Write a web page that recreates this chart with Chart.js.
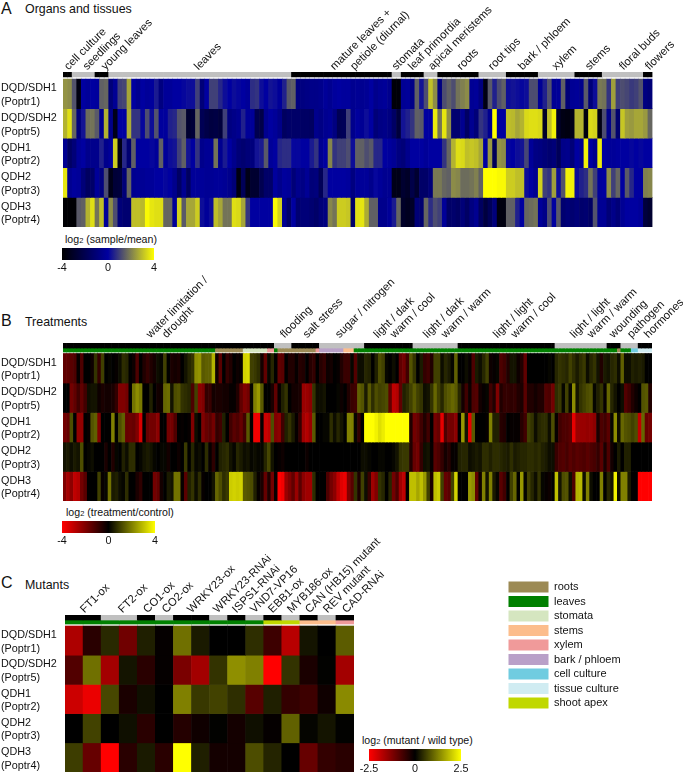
<!DOCTYPE html>
<html>
<head>
<meta charset="utf-8">
<script src="https://cdn.jsdelivr.net/npm/chart.js@4/dist/chart.umd.min.js"></script>
<style>
  body { margin: 0; background: #fff; width: 683px; height: 773px; position: relative; overflow: hidden; font-family: "Liberation Sans", Arial, sans-serif; color: #111; }
  canvas { position: absolute; left: 0; }
  .txt { position: absolute; white-space: nowrap; line-height: 1; }
  .letter { font-size: 16px; }
  .head { font-size: 12.4px; }
  .key { font-size: 10.6px; }
  .key small { font-size: 7.5px; }
</style>
</head>
<body>
<div class="txt letter" style="left:1px;top:1px">A</div>
<div class="txt head" style="left:25px;top:3px">Organs and tissues</div>
<div class="txt letter" style="left:1px;top:313px">B</div>
<div class="txt head" style="left:25px;top:316px">Treatments</div>
<div class="txt letter" style="left:1px;top:575px">C</div>
<div class="txt head" style="left:25px;top:579px">Mutants</div>
<div class="txt key" style="left:65px;top:234px">log<small>2</small> (sample/mean)</div>
<div class="txt key" style="left:66px;top:507px">log<small>2</small> (treatment/control)</div>
<div class="txt key" style="left:362px;top:735px">log<small>2</small> (mutant / wild type)</div>

<canvas id="organs" width="683" height="240" style="top:0"></canvas>
<canvas id="treatments" width="683" height="240" style="top:270px"></canvas>
<canvas id="mutants" width="683" height="243" style="top:530px"></canvas>
<canvas id="organsKey" width="140" height="30" style="left:40px;top:248px"></canvas>
<canvas id="treatmentsKey" width="140" height="30" style="left:40px;top:521px"></canvas>
<canvas id="mutantsKey" width="140" height="24" style="left:345px;top:749px"></canvas>
<canvas id="tissueLegend" width="178" height="150" style="left:505px;top:578px"></canvas>

<script>
const geneLabels = [["DQD/SDH1", "(Poptr1)"], ["DQD/SDH2", "(Poptr5)"], ["QDH1", "(Poptr2)"], ["QDH2", "(Poptr3)"], ["QDH3", "(Poptr4)"]];

// Panel A, one value per sample
const organsPoptr1 = [
  2.3,2.2,1.3,-3.6,0,-0.2,0,-0.1,1.5,1.6,
  -1,-0.3,1,1.1,2.6,0,-0.4,0,-0.2,-0.1,
  0.4,-0.8,-0.2,-0.2,0,0,0.1,0.2,0.2,1,
  -1,0,1,1,0.6,0.2,0,0.2,0.1,0,
  -0.2,0.7,0.8,0.2,0,0.3,0.2,-0.2,0.5,1.4,
  1.5,-0.8,-0.8,-0.7,-0.6,-0.6,-0.5,-0.2,-0.4,-0.1,
  0,-0.1,-0.1,-0.4,-0.3,-0.4,-0.3,0,-0.5,-0.3,
  -0.2,-0.5,-3.8,-3.8,-0.3,-0.2,-0.6,1.5,0.3,1.2,
  3,2.2,-0.8,1.2,1.5,1.2,1.8,2,2.2,-0.3,
  -0.2,-0.8,-3.5,1.4,0.5,1.2,1.5,0.2,0.3,0.2,
  0.1,0.2,1.2,1.2,-0.3,0.5,1.3,-0.3,-0.2,1.5,
  -1,-0.3,-0.2,-0.5,1.4,-1,0.2,1.9,1.8,0.8,
  2.5,1,1.2,1.1,0.9,1,1.3,-0.8,-1];
const organsPoptr5 = [
  2.8,3.5,1.6,-0.9,0.3,1.7,1.8,1.4,-0.4,2.8,
  -0.6,-3.4,0,0,2.7,0.8,0.8,0.1,1.2,0.2,
  1.3,-0.1,-0.1,0.5,0.6,1.3,1.4,-2.8,-2.6,1.6,
  -1.9,-2.2,-2.4,-2.3,-2.5,1,-0.8,-0.6,-0.4,0.5,
  -0.2,-0.2,-2,-2.2,-0.4,0,-0.2,-0.6,-1.6,-1.4,
  -1.4,-1.4,-1.5,-1.5,-1.6,-0.5,-0.7,-0.4,-0.3,-0.8,
  -1.9,-1.8,1,-0.5,-0.1,-0.3,0.2,0,-1,-0.7,
  -0.6,-0.8,-1.5,-2.5,0.3,0.5,0.8,1.5,1.4,0,
  0,3.7,1.8,3.6,2.2,-1.2,-1.2,-0.4,-1.5,-0.4,
  -1,0.8,0.5,-0.4,4,0,0,3,2.9,2.6,
  2.8,3.4,3.5,3.5,3.4,-3,3,3.8,-3,-3.5,
  -3.6,-3.4,2.8,2.8,-3.6,3.4,3.3,-3.5,1.2,-0.5,
  1.3,-1.2,3.1,2.5,2.4,2.6,2.6,2.4,1.6];
const organsPoptr2 = [
  -0.4,-1.5,-1,-0.2,0,-0.5,-0.5,-0.5,0.5,-0.5,
  -0.2,3.2,-3.5,0.6,-1.2,1.5,0,0,0,0.1,
  -0.2,1.5,-0.2,0.2,0.3,1,1.5,0.3,0,0.8,
  -0.5,-0.3,-0.3,1.8,-0.4,0.4,0,-0.5,-1,-1.2,
  -1,-0.9,0.3,0.4,1.4,-0.2,0,0.6,0.7,0.7,
  0.1,0.1,0,0,0.4,0.8,-0.4,0,2.1,0.8,
  1,1,1.2,0.2,1.5,1.5,1.2,1.4,0.6,0.6,
  0,-0.1,-0.3,-0.8,-1,-0.5,0,0,0,-0.2,
  0,0,0,0.8,1.6,2.8,3.5,3.4,3,3.1,
  3,2.6,0,2.4,-1.8,2.3,2.2,0.1,0,0.2,
  0.3,1.1,-0.2,-0.7,-0.8,-1,-1.2,-1,-1.8,-0.6,
  -0.5,-1,0,-0.4,3.8,0,-0.5,3.7,0,-0.2,
  -0.2,-0.1,0,0,0.1,0,0.1,0,0];
const organsPoptr3 = [
  3.6,-0.4,-0.1,-0.2,-1,-1.6,-1.4,-0.2,-0.8,1.2,
  -3.4,-2.6,-2.5,-1,1.6,-0.4,-0.3,-0.3,-0.2,-0.2,
  0,0,0.1,0,-0.5,-1.5,-0.4,-1.6,-0.2,-0.2,
  -0.2,-0.3,-0.3,-0.2,-0.2,-0.3,-0.5,-1,-3.6,-1.8,
  -3.4,-2.8,-2.8,-2,-1.4,-1.4,-0.1,-0.5,-0.1,-0.2,
  -1,-0.5,-0.7,-0.3,-1,-0.9,-1.8,0.6,0,0,
  0,0,-0.1,-0.8,-0.2,-0.2,-0.2,-0.5,0.1,-0.2,
  -0.4,-0.4,-3.4,-3.4,-2.8,-3,-2.2,-2.8,-1.4,-1.4,
  -1,1.9,1.9,1.6,1.5,2.2,2.1,1.7,1.7,1.8,
  2,1.5,4,4,4,3.9,3.9,3.2,3.2,3,
  3,0.2,0,-0.4,3.3,1,0.8,2.5,0.2,1.3,
  3.8,3.8,0.2,0.5,0.7,1.8,1,-0.1,0,2.2,
  1,1.6,0,1.4,0.6,0,0,2,2.1];
const organsPoptr4 = [
  -3.9,-3.9,-3.9,1.4,1.5,2.8,3.5,1.8,3,-0.2,
  2.2,1.2,-1,-1.2,-1.2,3,3,2.9,3.9,3.6,
  3.5,3.5,1.6,1.6,-0.2,3.3,1.4,2.6,2.6,3.2,
  0.2,-0.2,0.2,3,2.6,1.8,1.8,3.5,3.4,2.6,
  0.8,0,0,0,0,0,3.9,3.3,-0.4,-1.4,
  0,-1.2,-1,-1,-1.2,-1.4,-1,-0.8,2.1,1.8,
  3.2,3.2,3.1,-1.4,3.5,3.6,2.7,1.5,1.5,-0.5,
  -0.5,-0.2,0.4,1.6,-3,-3.2,-3,-1,-1.2,1.6,
  0.7,1.2,1,-0.2,-1.4,-1.3,-1.5,-1,-1.5,-0.8,
  -0.4,-1.6,-2.4,-1.8,-0.9,-3.6,-3.6,1.5,1.5,0.5,
  0,1.6,1.7,1.8,-0.2,-0.6,1.2,0,1.4,-1.2,
  -1,-1.2,-1,-1.3,-1.2,-1.5,1.3,-0.3,-0.3,-1,
  -0.6,-1,-0.3,0,0,0,-0.2,-2.5,-2.8];

// Panel B
const treatPoptr1 = [
  -1.5,-1.5,-1.4,-1.2,-0.1,-1.2,0,0,-0.2,0.8,
  -0.8,1,0,0.1,0,-0.1,0.2,0.7,0.6,0,
  -0.2,-1.2,0,-0.5,-0.8,-0.5,-0.3,0.2,0.1,1,
  0,-0.4,-0.3,-0.4,0,0.3,0.6,0.8,2.2,2.3,
  1.4,1.5,1.5,2.8,-0.2,-1.4,0,-0.8,-0.5,0,
  -0.2,-0.1,3.3,3.4,1,0.9,0.7,-0.3,-1.5,0.1,
  0.6,0,-1.5,-1.4,0,-0.5,-0.5,-0.1,-0.6,-0.5,
  0,-0.6,-0.8,0,-0.6,-0.8,-0.2,-0.3,0,-0.1,
  -0.5,-0.9,-0.9,0.1,-1.3,0.2,0.2,0.6,0.5,0,
  0.5,1.2,1,0.1,0,0.2,0,-1.5,-1.8,-1,
  1.3,0.8,0,0.4,-0.8,-1,-0.5,1,1,0.2,
  0.6,0.4,0.1,1.5,0,0,0.2,-0.1,-1.2,0.4,
  0.2,0.6,1,-0.2,-0.1,0.1,-1.2,-1,-0.5,0.3,
  0.3,-0.2,-0.5,-1.5,0,0,0,0,0,0,
  0.1,0,0.6,0.8,0.7,0.6,1,0.7,0.4,0.7,
  0.9,0.2,0.6,0.8,0.3,-0.5,0.4,0.3,0.6,0.7,
  0.2,1.5,0.2,0.2,0.5,0.4,0.5,0.4,0,0];
const treatPoptr5 = [
  0,0,-1.8,-1.5,-1,-1.5,-1,0.2,0.3,0.3,
  -0.2,-0.4,-0.3,-0.3,-0.4,-0.8,-2,-2,-1.8,0,
  1.8,2.2,1.9,0,0,0.5,0,-0.3,-0.2,1.6,
  1.7,0.3,1.2,1.3,0.8,0.7,0.6,-1.2,1,-2.2,
  -2,-0.8,-0.9,-0.3,-0.4,-0.4,-0.3,-0.3,-0.1,-0.1,
  -0.5,-1.5,-2,-1.8,0.1,2,2.4,1.4,0,0,
  -0.4,-1.5,-0.1,0.5,0.8,0,-0.3,-0.3,-0.4,-2.4,
  -2.4,-2.2,0.8,0.2,0.2,0.3,0,0,0,0.1,
  -0.2,0,-0.5,-0.9,-1,1.5,1.3,0.4,1.4,0.7,
  1.2,1,1.1,1.2,-1.5,-3,-2.8,-1.5,0.5,0.7,
  1,1.4,1,0.8,0.2,0.3,0.8,1.6,1,0.6,
  1.2,1.4,1.6,1.4,0.6,-0.3,-1,-0.2,-1.2,-1.3,
  -0.3,-0.1,0.1,-1,-0.5,-2,-0.5,-0.8,-0.8,-0.7,
  -0.8,-0.5,-0.4,-1.4,-0.5,-0.5,-0.3,-0.5,-0.5,-1.3,
  -1.2,-1.8,0.7,0.9,0.1,1,0.1,2.2,0.3,0.8,
  1,1.2,1.3,0.1,0.5,0.8,-0.1,1.6,0.6,0.3,
  0,0.2,-1.3,-1,-0.5,-0.2,0,1.3,1.4,-0.5];
const treatPoptr2 = [
  -1.8,-1.6,1.2,0,-2.3,-2.3,0,-0.1,1.3,1.5,
  -2,0,0,0,2,0,1.2,1.5,-1.6,-1.7,
  -1.6,-2,-3.4,0,-1.6,-1.8,-1.8,-2.2,0,0,
  -1.8,-1.8,-1.2,0,-0.1,0,-0.1,-2,0.2,0,
  -2,-1.6,-1.4,-1.8,-0.8,-1,0.5,0,-1,-1.4,
  -1.2,-1.6,-1,1.4,0,-3.8,-3.8,-0.1,-3.2,-3,
  1.2,-2,-2.2,-1,0.5,0.8,0.4,-0.1,-0.8,-2.5,
  -2.8,-2.4,1.4,0,0,0.1,0.1,0.7,0.2,0.6,
  0.3,0,2,2,0.1,-0.8,0,4,4,4,
  3.8,3.5,3.7,4,4,4,4,4,4,4,
  -0.5,-1.8,-1.6,-1,-0.5,-1,0,-1.8,-1.6,-3.6,
  -1.2,-1.8,-1.8,-2.2,0,2.4,0.3,-3.6,1.4,0,
  0,0,-0.1,2,0.5,0.5,-0.6,-0.5,0,-0.1,
  -0.1,-0.1,-0.6,-1,1,0.8,0.2,0.6,0.7,0.7,
  0.2,1.2,-0.1,-1,-1.2,-1.2,-1.4,-3.6,-2.4,-2.4,
  -2.4,-2.3,-2.4,-2.2,-0.4,-1.2,-1,-1.4,0.1,2.2,
  0.2,1.6,1.3,1.2,1,1.2,-3,1.6,-1.6,-1.8];
const treatPoptr3 = [
  0.3,0.4,0.2,0.4,0.3,1.2,0,0.1,0.2,0,
  0,0,-0.4,0,-0.5,0.1,0,0.5,0.2,0.7,
  0.7,0,0.1,0.3,0.4,0.3,0.1,0,0.1,0.1,
  -0.3,0,0,-0.2,0,0.9,0,0.6,0.1,0.2,
  0,0.7,-0.1,-0.7,0,0.5,0.6,0.7,0.3,0.1,
  0.6,0.4,0.2,0.3,0.1,0.2,0.1,0.1,0.6,1.1,
  0.3,0,-0.1,-0.2,0,0,0,0,0,0,
  -0.2,0,0,0,0,0,0,0,0,0,
  0,0,0,0,0,0,0.2,0.2,0.1,0,
  0,0.1,0.1,0,0,0.1,0.3,0.8,0.9,0.9,
  -0.5,-1.6,-1.8,-0.8,0.2,0.3,-0.1,-1.4,-1.2,-0.8,
  -0.3,-0.6,-0.1,-0.1,0.5,0.6,0.6,0.2,0.3,0.4,
  0.3,0.7,0.7,0.5,0.7,0.7,0.6,0.5,0.4,0.7,
  0.4,0.5,0.6,0.6,0.7,0.7,0.6,0.7,0.5,0.4,
  0.2,0.2,-0.9,-1.2,-1.3,-1.1,-1.4,-1.2,-1.4,-1.3,
  -1.2,-1.4,-1.2,-1.1,-0.8,-1.4,-0.4,-1.2,-0.3,0,
  0.4,0,0.5,0.5,0,0,0,0,0,0];
const treatPoptr4 = [
  -2,-2.6,-2.2,-3,-2.8,-1.8,-1.4,0,0,0,
  1,-0.1,0.1,1.8,0.4,0.5,0.2,0.1,0.7,0,
  0,-0.4,-0.7,0,0,0,-1.8,-1.6,-0.3,0,
  0.4,0.3,1.8,1.8,-0.1,-1.4,0.5,0.8,0.2,0.7,
  -0.1,0,0,0.3,1.6,1.2,0.7,0.9,3.2,3.3,
  3.2,3.3,1.4,1.3,1.2,0.5,-0.1,-0.4,-1.6,-0.5,
  -1.8,-0.1,-4,-3.8,-2.4,-2,-1.5,-2.4,-1.4,-2.2,
  -2.5,-2.5,0.7,0,0,0,-1.2,-1.8,-2.2,-3,
  -3.5,-3.7,-2,-1.4,0.8,-0.4,1,0.2,-0.9,-2.5,
  -2,0.8,0.6,0,0.6,-1.8,-1.2,-2.5,-3,0,
  3,3,2.6,3,2.4,1,-0.4,3,3.2,1,
  -1.6,-1.4,1,3.3,0,0,0,2.4,2.2,-1.5,
  -0.2,2,0.3,2,0.4,0.1,-1.4,-1,0,1,
  1.6,0,2.4,0.1,1,0.6,0.2,0.8,0.1,-0.1,
  -0.2,0,3,0.3,1.2,1.3,0.2,-1.2,2.8,2.9,
  0.2,2,0.2,0,0,2,0,0.6,0.3,3.8,
  0.2,2,2,0.4,0,0,-4,-4,-4,-4];

// Panel C
const mutantPoptr1 = [-1.7,-0.4,0.4,-1.1,0.3,-0.05,1.1,0.25,0,0,0.45,-0.6,-1.8,0.2,0,0.9];
const mutantPoptr5 = [-0.8,1.1,-1.6,0.2,-0.4,-0.05,-1.2,-1.6,0.5,1.4,1.25,-2.5,0.5,-0.25,0.02,-1.6];
const mutantPoptr2 = [-2,-2.3,0.7,-0.25,0.15,0,1.25,0.55,0.65,0.45,-0.85,0.3,-0.5,-0.6,-0.15,1.35];
const mutantPoptr3 = [0,0.65,0,0.15,-0.4,0,-0.35,-0.15,0.02,-0.2,0.15,-0.05,0.95,0.05,0.2,0.02];
const mutantPoptr4 = [0.6,-1,-2.5,-0.4,0.25,-0.4,2.5,0.3,-0.2,-0.2,0.75,0.35,0,-1,-0.5,-0.4];

// Group labels on top of each panel, with the pixel where the slanted text starts
const organLabels = ["cell culture", "seedlings", "young leaves", "leaves", "mature leaves +", "petiole (diurnal)", "stomata", "leaf primordia", "apical meristems", "roots", "root tips", "bark / phloem", "xylem", "stems", "floral buds", "flowers"];
const organLabelX = [64, 82.7, 101, 194, 330, 350, 391.7, 408, 428, 456.7, 488, 518, 551.7, 585, 619, 645];
const treatLabels = ["water limitation /", "drought", "flooding", "salt stress", "sugar / nitrogen", "light / dark", "warm / cool", "light / dark", "warm / warm", "light / light", "warm / cool", "light / light", "warm / warm", "wounding", "pathogen", "hormones"];
const treatLabelX = [146, 162, 280, 302.7, 335, 373.3, 390, 423, 441, 493, 510.7, 570, 587, 609, 627, 644];
const mutantLabels = ["FT1-ox", "FT2-ox", "CO1-ox", "CO2-ox", "WRKY23-ox", "WRKY23-RNAi", "ISPS1-RNAi", "VND7-VP16", "EBB1-ox", "MYB186-ox", "CAN (HB15) mutant", "REV mutant", "CAD-RNAi"];
const mutantLabelX = [80, 118, 143, 161.7, 187, 213, 232, 250, 268, 287, 305, 323, 342];

// Alternating black / grey header groups, in number of columns
const organGroups = [2, 5, 3, 40, 22, 2, 5, 3, 9, 6, 7, 8, 6, 9, 2];
const treatGroups = [61, 5, 8, 13, 14, 13, 28, 15, 4, 5, 4];
const mutantGroups = [2, 2, 1, 1, 2, 1, 1, 1, 1, 1, 1, 1, 1];

const tissueNames = ["roots", "leaves", "stomata", "stems", "xylem", "bark / phloem", "cell culture", "tissue culture", "shoot apex"];
const tissueColors = ["#9c8a54", "#008000", "#d5e6c0", "#fcbd8c", "#f09a9a", "#b9a0c8", "#70cce0", "#d0ecf2", "#c0d800"];

const treatTissues = ["leaves", "roots", "stomata", "xylem", "leaves", "roots", "xylem", "bark / phloem", "stems", "leaves", "roots", "leaves", "cell culture", "tissue culture"];
const treatTissueSpans = [44, 8, 7, 2, 1, 11, 1, 7, 3, 76, 1, 3, 2, 4];
const mutantTissues = ["leaves", "shoot apex", "stems", "xylem"];
const mutantTissueSpans = [11, 2, 2, 1];

const scaleTicksAB = [-4, 0, 4];
const scaleTicksC = [-2.5, 0, 2.5];

const FONT = "'Liberation Sans', Arial, sans-serif";

const mix = (a, b, t) => {
  const c = a.map((v, i) => Math.round(v + (b[i] - v) * t));
  return `rgb(${c[0]},${c[1]},${c[2]})`;
};
const BLACK = [0, 0, 0], BLUE = [0, 0, 160], YELLOW = [255, 255, 0], RED = [255, 0, 0];

const blueColor = (v) => v < 0 ? mix(BLUE, BLACK, -v / 4) : mix(BLUE, YELLOW, v / 4);
const redColor = (max) => (v) => v < 0 ? mix(BLACK, RED, -v / max) : mix(BLACK, YELLOW, v / max);

const spread = (spans, colorOf) => spans.flatMap((n, i) => Array(n).fill(colorOf(i)));
const headerColors = (groups) => spread(groups, (i) => i % 2 ? "#c0c0c0" : "#000");
const tissueTrack = (names, spans) => spread(spans, (i) => tissueColors[tissueNames.indexOf(names[i])]);

// the slanted labels must not push the plot area inwards
const noPadding = (axis) => {
  axis.paddingLeft = axis.paddingRight = axis.paddingTop = axis.paddingBottom = 0;
};

// Heatmap: every cell is a floating bar on a linear x scale
const drawHeatmap = (id, cfg) => {
  const n = cfg.rows[0].length;
  const bars = (y0, y1, colors) => ({
    data: colors.map((c, i) => ({ x: i + 0.5, y: [y0, y1] })),
    backgroundColor: colors,
    barPercentage: 1,
    categoryPercentage: 1,
  });
  const datasets = cfg.rows.map((vals, r) => bars(r, r + 1, vals.map(cfg.color)));
  cfg.tracks.forEach((t) => datasets.push(bars(t.from, t.to, t.colors)));

  const canvas = document.getElementById(id);
  new Chart(canvas, {
    type: "bar",
    data: { datasets },
    options: {
      responsive: false,
      animation: false,
      layout: { padding: { left: 1, right: canvas.width - cfg.right, bottom: canvas.height - cfg.bottom, top: 0 } },
      plugins: { legend: { display: false }, tooltip: { enabled: false } },
      scales: {
        x: {
          type: "linear",
          position: "top",
          stacked: true,
          offset: false,
          min: 0,
          max: n,
          grid: { display: false, drawTicks: false },
          border: { display: false },
          afterBuildTicks: (axis) => {
            axis.ticks = cfg.labelX.map((px) => ({ value: (px + 12 - cfg.left) / (cfg.right - cfg.left) * n }));
          },
          afterFit: (axis) => { axis.height = cfg.top; noPadding(axis); },
          ticks: {
            autoSkip: false,
            minRotation: 45,
            maxRotation: 45,
            padding: cfg.labelPad,
            color: "#111",
            font: { family: FONT, size: 11.3 },
            callback: (v, i) => cfg.labels[i],
          },
        },
        y: {
          type: "linear",
          reverse: true,
          stacked: false,
          min: cfg.yMin,
          max: 5,
          grid: { display: false, drawTicks: false },
          border: { display: false },
          afterBuildTicks: (axis) => {
            axis.ticks = geneLabels.map((g, i) => ({ value: i + 0.55 }));
          },
          afterFit: (axis) => { axis.width = cfg.left - 1; noPadding(axis); },
          ticks: {
            autoSkip: false,
            crossAlign: "far",
            padding: 0,
            color: "#111",
            font: { family: FONT, size: 10.8, lineHeight: 1.25 },
            callback: (v, i) => geneLabels[i],
          },
        },
      },
    },
  });
};

// Colour key: one floating bar painted with a gradient, ticks from the axis
const drawKey = (id, ticksAt, stops, plot) => {
  const canvas = document.getElementById(id);
  new Chart(canvas, {
    type: "bar",
    data: {
      labels: [""],
      datasets: [{
        data: [[ticksAt[0], ticksAt[2]]],
        barPercentage: 1,
        categoryPercentage: 1,
        backgroundColor: (c) => {
          const area = c.chart.chartArea;
          if (!area) return "#000";
          const g = c.chart.ctx.createLinearGradient(area.left, 0, area.right, 0);
          stops.forEach((s, i) => g.addColorStop(i / (stops.length - 1), s));
          return g;
        },
      }],
    },
    options: {
      indexAxis: "y",
      responsive: false,
      animation: false,
      layout: { padding: { left: plot.left, right: canvas.width - plot.right, top: 0, bottom: 0 } },
      plugins: { legend: { display: false }, tooltip: { enabled: false } },
      scales: {
        y: { display: false },
        x: {
          type: "linear",
          min: ticksAt[0],
          max: ticksAt[2],
          grid: { display: false, drawTicks: false },
          border: { display: false },
          afterBuildTicks: (axis) => { axis.ticks = ticksAt.map((value) => ({ value })); },
          afterFit: (axis) => { axis.height = canvas.height - plot.barH; noPadding(axis); },
          ticks: {
            autoSkip: false,
            maxRotation: 0,
            padding: 2,
            color: "#111",
            font: { family: FONT, size: 10.8 },
            callback: (v) => String(v),
          },
        },
      },
    },
  });
};

drawHeatmap("organs", {
  rows: [organsPoptr1, organsPoptr5, organsPoptr2, organsPoptr3, organsPoptr4],
  color: blueColor,
  labels: organLabels, labelX: organLabelX, labelPad: -1,
  left: 63, right: 652.5, top: 72, bottom: 227, yMin: -0.236,
  tracks: [{ from: -0.236, to: -0.068, colors: headerColors(organGroups) }],
});

drawHeatmap("treatments", {
  rows: [treatPoptr1, treatPoptr5, treatPoptr2, treatPoptr3, treatPoptr4],
  color: redColor(4),
  labels: treatLabels, labelX: treatLabelX, labelPad: 2,
  left: 63, right: 652, top: 73, bottom: 231, yMin: -0.356,
  tracks: [
    { from: -0.356, to: -0.186, colors: headerColors(treatGroups) },
    { from: -0.186, to: -0.05, colors: tissueTrack(treatTissues, treatTissueSpans) },
  ],
});

drawHeatmap("mutants", {
  rows: [mutantPoptr1, mutantPoptr5, mutantPoptr2, mutantPoptr3, mutantPoptr4],
  color: redColor(2.5),
  labels: mutantLabels, labelX: mutantLabelX, labelPad: -1,
  left: 65, right: 354, top: 85, bottom: 242, yMin: -0.377,
  tracks: [
    { from: -0.377, to: -0.205, colors: headerColors(mutantGroups) },
    { from: -0.205, to: -0.068, colors: tissueTrack(mutantTissues, mutantTissueSpans) },
  ],
});

drawKey("organsKey", scaleTicksAB, ["#000", "#0000a0", "#ffff00"], { left: 22, right: 114, barH: 12 });
drawKey("treatmentsKey", scaleTicksAB, ["#ff0000", "#000", "#ffff00"], { left: 22, right: 115, barH: 12 });
drawKey("mutantsKey", scaleTicksC, ["#ff0000", "#000", "#ffff00"], { left: 24, right: 116, barH: 12 });

// Legend of the tissue colours, drawn by the library's own legend
new Chart(document.getElementById("tissueLegend"), {
  type: "bar",
  data: {
    labels: [],
    datasets: tissueNames.map((name, i) => ({ label: name, data: [], backgroundColor: tissueColors[i], borderWidth: 0 })),
  },
  options: {
    responsive: false,
    animation: false,
    layout: { padding: 0 },
    scales: { x: { display: false }, y: { display: false } },
    plugins: {
      tooltip: { enabled: false },
      legend: {
        position: "left",
        align: "start",
        maxWidth: 178,
        onClick: null,
        labels: { boxWidth: 40, boxHeight: 11, padding: 3.5, color: "#111", font: { family: FONT, size: 11 } },
      },
    },
  },
});
</script>
</body>
</html>
